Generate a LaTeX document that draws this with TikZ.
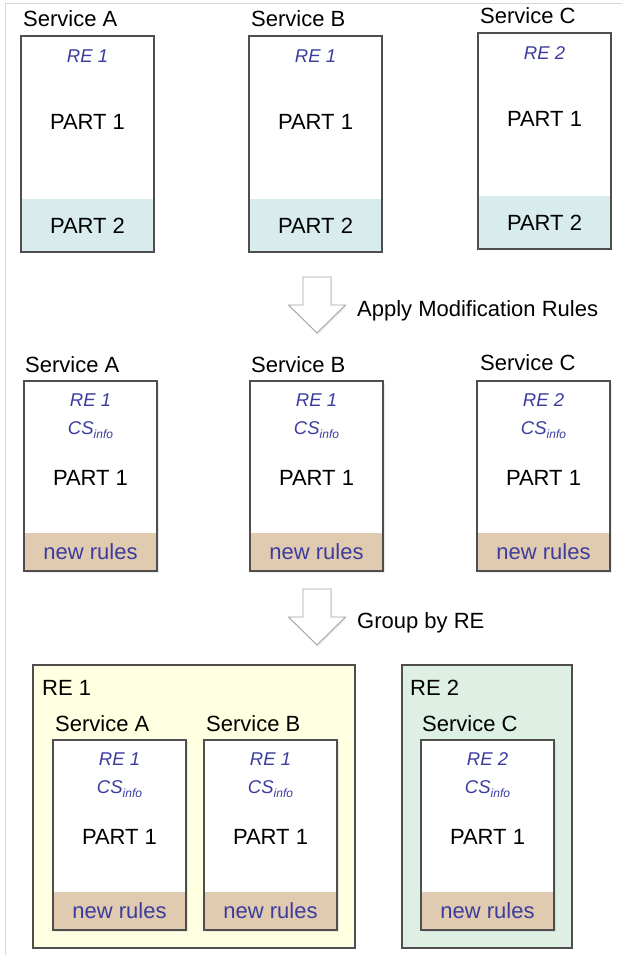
\documentclass[tikz,border=0pt]{standalone}
\usepackage{fontspec}
\setmainfont{Liberation Sans}
\usetikzlibrary{calc,shadows}

\definecolor{boxline}{HTML}{4E4E4E}
\definecolor{txtblue}{HTML}{3C3C9E}
\definecolor{tealband}{HTML}{D8ECEE}
\definecolor{tanband}{HTML}{E1CBB0}
\definecolor{grpyellow}{HTML}{FFFFE2}
\definecolor{grpgreen}{HTML}{DEF0E4}
\definecolor{framegray}{HTML}{D6D6D6}
\definecolor{arrowline}{HTML}{A2A2A2}

% a service panel: white body, coloured band at the bottom, dark outline
% #1 name, #2 left x, #3 top y, #4 height, #5 band height, #6 band colour, #7 extra style
\newcommand\servicebox[7]{%
  \node[svcbase, minimum height=#4pt, #7] (#1) at (#2,#3) {};
  \fill[#6] ($(#1.south west)+(0,-#5)$) rectangle (#1.south east);
  \draw[svcframe] (#1.north west) rectangle (#1.south east);
}

% content of a modified service panel
% #1 panel name, #2 RE text
\newcommand\modcontent[2]{%
  \node[retxt] (#1-re) at ($(#1.north)+(0,19.5)$) {#2};
  \node[retxt, anchor=base] (#1-cs) at ($(#1.north)+(0,53)$)
    {CS\raisebox{-4.5pt}{\fontsize{12}{12}\selectfont info}};
  \node[blacktxt] (#1-p1) at ($(#1.north)+(0,96.5)$) {PART 1};
  \node[bluetxt] (#1-nr) at ($(#1.south)+(0,-19)$) {new rules};
}

% hollow block arrow pointing down; #1 centre x, #2 top y
\newcommand\stepdownarrow[2]{%
  \path[blockarrow] (#1-14,#2) -- (#1+14,#2) -- (#1+14,#2+28) -- (#1+28.5,#2+28)
    -- (#1,#2+56) -- (#1-28.5,#2+28) -- (#1-14,#2+28) -- cycle;
}

\begin{document}
\begin{tikzpicture}[x=1pt,y=-1pt,
  svcframe/.style={draw=boxline, line width=1.2pt},
  svcbase/.style={fill=white, inner sep=0pt, outer sep=0pt,
    minimum width=133pt, anchor=north west},
  shadowed/.style={drop shadow={opacity=0.16, shadow xshift=1.5pt, shadow yshift=-2pt}},
  blacktxt/.style={font=\fontsize{22}{24}\selectfont, text=black, inner sep=0pt},
  bluetxt/.style={font=\fontsize{22}{24}\selectfont, text=txtblue, inner sep=0pt},
  retxt/.style={font=\fontsize{18.5}{20}\selectfont\itshape, text=txtblue, inner sep=0pt},
  grp/.style={draw=boxline, line width=1.2pt, inner sep=0pt, outer sep=0pt,
    anchor=north west},
  blockarrow/.style={draw=arrowline, fill=white, line width=0.9pt, line join=miter,
    drop shadow={opacity=0.12, shadow xshift=1pt, shadow yshift=-2pt}},
]
\useasboundingbox (0,0) rectangle (622,955);

% page frame
\draw[framegray, line width=1pt] (5,955) -- (5,4) -- (622,4);

% ---------- original services ----------
\servicebox{tA}{21}{36}{216}{53}{tealband}{}
\servicebox{tB}{249}{36}{216}{53}{tealband}{}
\servicebox{tC}{478}{33}{216}{53}{tealband}{}
\foreach \b/\s/\r in {tA/A/1, tB/B/1, tC/C/2}{
  \node[blacktxt, anchor=base west] (\b-lab) at ($(\b.north west)+(2,-9)$) {Service \s};
  \node[retxt] (\b-re) at ($(\b.north)+(0,20)$) {RE \r};
  \node[blacktxt] (\b-p1) at ($(\b.north)+(0,86)$) {PART 1};
  \node[blacktxt] (\b-p2) at ($(\b.south)+(0,-26)$) {PART 2};
}

% ---------- step 1 ----------
\stepdownarrow{317}{277}
\node[blacktxt, anchor=base west] (step1) at (357,316) {Apply Modification Rules};

% ---------- modified services ----------
\servicebox{mA}{24}{381}{190}{38}{tanband}{shadowed}
\servicebox{mB}{250}{381}{190}{38}{tanband}{shadowed}
\servicebox{mC}{477}{381}{190}{38}{tanband}{shadowed}
\node[blacktxt, anchor=base west] (mA-lab) at ($(mA.north west)+(1,-9)$) {Service A};
\node[blacktxt, anchor=base west] (mB-lab) at ($(mB.north west)+(1,-9)$) {Service B};
\node[blacktxt, anchor=base west] (mC-lab) at ($(mC.north west)+(3,-11)$) {Service C};
\modcontent{mA}{RE 1}
\modcontent{mB}{RE 1}
\modcontent{mC}{RE 2}

% ---------- step 2 ----------
\stepdownarrow{317}{589}
\node[blacktxt, anchor=base west] (step2) at (357,628) {Group by RE};

% ---------- grouped by RE ----------
\node[grp, fill=grpyellow, minimum width=322pt, minimum height=283pt] (g1) at (33,665) {};
\node[grp, fill=grpgreen, minimum width=170pt, minimum height=283pt] (g2) at (402,665) {};
\node[blacktxt, anchor=base west] (g1-lab) at ($(g1.north west)+(9,30)$) {RE 1};
\node[blacktxt, anchor=base west] (g2-lab) at ($(g2.north west)+(8,30)$) {RE 2};

\servicebox{gA}{53}{740}{190}{38}{tanband}{shadowed}
\servicebox{gB}{204}{740}{190}{38}{tanband}{shadowed}
\servicebox{gC}{421}{740}{190}{38}{tanband}{shadowed}
\node[blacktxt, anchor=base west] (gA-lab) at ($(gA.north west)+(2,-9)$) {Service A};
\node[blacktxt, anchor=base west] (gB-lab) at ($(gB.north west)+(2,-9)$) {Service B};
\node[blacktxt, anchor=base west] (gC-lab) at ($(gC.north west)+(1,-9)$) {Service C};
\modcontent{gA}{RE 1}
\modcontent{gB}{RE 1}
\modcontent{gC}{RE 2}
\end{tikzpicture}
\end{document}
